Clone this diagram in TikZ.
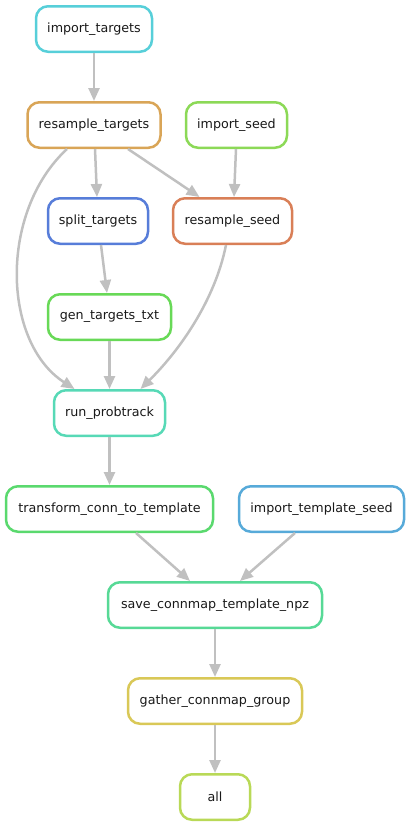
\documentclass[tikz,border=0pt]{standalone}
\usepackage{fontspec}
\setmainfont{DejaVu Sans}
\usetikzlibrary{arrows.meta,calc}
\definecolor{edgegray}{RGB}{192,192,192}
\definecolor{cImpT}{HTML}{57CFD9}
\definecolor{cResT}{HTML}{D9A557}
\definecolor{cImpS}{HTML}{8CD957}
\definecolor{cSplit}{HTML}{577DD9}
\definecolor{cResS}{HTML}{D97F57}
\definecolor{cGen}{HTML}{68D957}
\definecolor{cRun}{HTML}{57D9B6}
\definecolor{cTrans}{HTML}{5AD96E}
\definecolor{cImpTS}{HTML}{57AAD9}
\definecolor{cSave}{HTML}{57D996}
\definecolor{cGath}{HTML}{D9C857}
\definecolor{cAll}{HTML}{B9D957}
\begin{document}
\begin{tikzpicture}[x=1pt,y=-1pt,
  box/.style={draw=#1, line width=2.5pt, rounded corners=12pt, minimum height=45.5pt,
    fill=white, inner sep=0pt, text=black!90, font=\fontsize{12.7}{15}\selectfont},
  edge/.style={draw=edgegray, line width=2.5pt, -{Triangle[length=13pt,width=11pt,fill=edgegray]}}]
\useasboundingbox (0,0) rectangle (411,827);
\node[box=cImpT, minimum width=116pt] (it) at (94,29) {import\_targets};
\node[box=cResT, minimum width=133pt] (rt) at (94,125) {resample\_targets};
\node[box=cImpS, minimum width=101pt] (is) at (236.5,125) {import\_seed};
\node[box=cSplit, minimum width=100pt] (st) at (98,221) {split\_targets};
\node[box=cResS, minimum width=119pt] (rs) at (232.5,221) {resample\_seed};
\node[box=cGen, minimum width=123pt] (gt) at (109.5,317) {gen\_targets\_txt};
\node[box=cRun, minimum width=111pt] (rp) at (109.5,413) {run\_probtrack};
\node[box=cTrans, minimum width=207pt] (tc) at (109.5,509) {transform\_conn\_to\_template};
\node[box=cImpTS, minimum width=165pt] (its) at (321.5,509) {import\_template\_seed};
\node[box=cSave, minimum width=214pt] (sc) at (215,605) {save\_connmap\_template\_npz};
\node[box=cGath, minimum width=174pt] (gc) at (215,701) {gather\_connmap\_group};
\node[box=cAll, minimum width=70pt] (al) at (215,797) {all};

\draw[edge] (it.south) -- (rt.north);
\draw[edge] ($(rt.south)+(1,0)$) -- ($(st.north)+(-1,0)$);
\draw[edge] ($(rt.south)+(34,0)$) -- ($(rs.north)+(-33,0)$);
\draw[edge] ($(is.south)+(-0.5,0)$) -- ($(rs.north)+(1.5,0)$);
\draw[edge] ($(rt.south)+(-27,0)$) .. controls (-1,212) and (2,342) .. ($(rp.north)+(-35,0)$);
\draw[edge] ($(st.south)+(3,0)$) -- ($(gt.north)+(-2.5,0)$);
\draw[edge] (gt.south) -- (rp.north);
\draw[edge] ($(rs.south)+(-6.5,0)$) .. controls (215,300) and (180,350) .. ($(rp.north)+(31,0)$);
\draw[edge] (rp.south) -- (tc.north);
\draw[edge] ($(tc.south)+(26.5,0)$) -- ($(sc.north)+(-25,0)$);
\draw[edge] ($(its.south)+(-26.5,0)$) -- ($(sc.north)+(25,0)$);
\draw[edge] (sc.south) -- (gc.north);
\draw[edge] (gc.south) -- (al.north);
\end{tikzpicture}
\end{document}
